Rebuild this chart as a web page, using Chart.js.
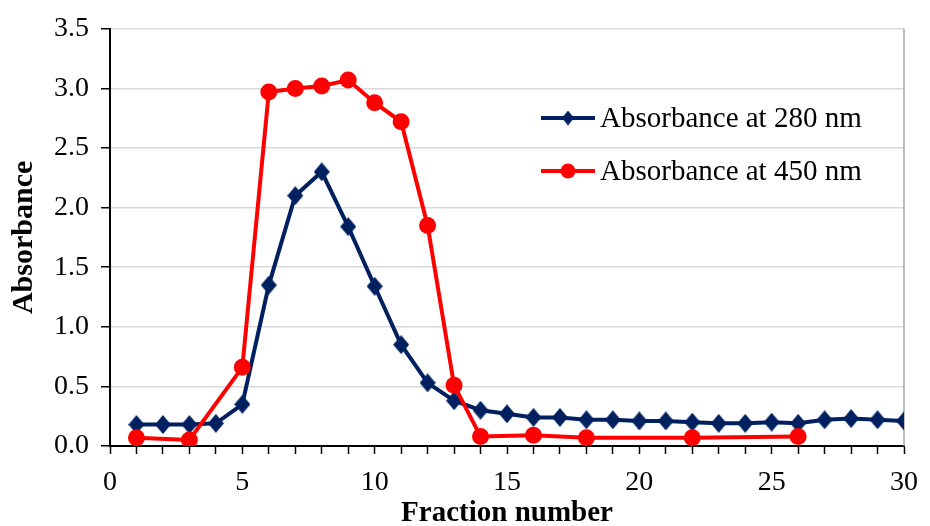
<!DOCTYPE html>
<html>
<head>
<meta charset="utf-8">
<script src="https://cdn.jsdelivr.net/npm/chart.js@4"></script>
<style>
  html, body { margin: 0; padding: 0; background: #fff; }
  #wrap { width: 930px; height: 526px; }
</style>
</head>
<body>
<div id="wrap"><canvas id="chart" width="930" height="526"></canvas></div>
<script>
// Absorbance profile of the fractions
const fractions280 = [1, 2, 3, 4, 5, 6, 7, 8, 9, 10, 11, 12, 13, 14, 15, 16, 17, 18, 19, 20, 21, 22, 23, 24, 25, 26, 27, 28, 29, 30];
const abs280 = [0.18, 0.18, 0.18, 0.19, 0.35, 1.35, 2.10, 2.30, 1.84, 1.34, 0.85, 0.53, 0.38, 0.30, 0.27, 0.24, 0.24, 0.22, 0.22, 0.21, 0.21, 0.20, 0.19, 0.19, 0.20, 0.19, 0.22, 0.23, 0.22, 0.21];

const fractions450 = [1, 3, 5, 6, 7, 8, 9, 10, 11, 12, 13, 14, 16, 18, 22, 26];
const abs450 = [0.07, 0.05, 0.66, 2.97, 3.00, 3.02, 3.07, 2.88, 2.72, 1.85, 0.51, 0.08, 0.09, 0.07, 0.07, 0.08];

const xTicks = [0, 5, 10, 15, 20, 25, 30];
const yTicks = [0, 0.5, 1.0, 1.5, 2.0, 2.5, 3.0, 3.5];

const labels = ["Absorbance at 280 nm", "Absorbance at 450 nm"];
const navy = "#002060";
const red = "#ff0000";

const toPoints = (xs, ys) => xs.map((x, i) => ({ x: x, y: ys[i] }));

// slightly tall diamond marker, like the original
function diamond(w, h, color) {
  const c = document.createElement("canvas");
  c.width = w;
  c.height = h;
  const g = c.getContext("2d");
  g.fillStyle = color;
  g.beginPath();
  g.moveTo(w / 2, 0);
  g.lineTo(w, h / 2);
  g.lineTo(w / 2, h);
  g.lineTo(0, h / 2);
  g.closePath();
  g.fill();
  return c;
}
const bigDiamond = diamond(16, 19, navy);
const smallDiamond = diamond(12, 15, navy);

Chart.defaults.font.family = "'Liberation Serif', 'Times New Roman', serif";
Chart.defaults.color = "#000";

// plot border on the right + legend inside the plot
const framePlugin = {
  id: "frame",
  beforeDatasetsDraw(chart) {
    const { ctx, chartArea } = chart;
    ctx.save();
    ctx.strokeStyle = "#a6a6a6";
    ctx.lineWidth = 1.5;
    ctx.beginPath();
    ctx.moveTo(chartArea.right, chartArea.top);
    ctx.lineTo(chartArea.right, chartArea.bottom);
    ctx.stroke();
    ctx.restore();
  },
  afterDraw(chart) {
    const { ctx } = chart;
    const rows = [
      { y: 118, color: navy, style: smallDiamond, r: 6 },
      { y: 171, color: red, style: "circle", r: 7.5 },
    ];
    ctx.save();
    rows.forEach((row, i) => {
      ctx.strokeStyle = row.color;
      ctx.lineWidth = 4;
      ctx.beginPath();
      ctx.moveTo(541, row.y);
      ctx.lineTo(595, row.y);
      ctx.stroke();
      ctx.fillStyle = row.color;
      Chart.helpers.drawPoint(ctx, { pointStyle: row.style, radius: row.r, borderWidth: 0 }, 568, row.y);
      ctx.fillStyle = "#000";
      ctx.font = "29px 'Liberation Serif'";
      ctx.textBaseline = "middle";
      ctx.textAlign = "left";
      ctx.fillText(labels[i], 600, row.y + 1);
    });
    ctx.restore();
  },
};

new Chart(document.getElementById("chart").getContext("2d"), {
  type: "line",
  data: {
    datasets: [
      {
        label: labels[1],
        data: toPoints(fractions450, abs450),
        borderColor: red,
        backgroundColor: red,
        borderWidth: 4,
        pointStyle: "circle",
        pointRadius: 8.5,
        pointBorderWidth: 0,
        tension: 0,
        order: 0,
      },
      {
        label: labels[0],
        data: toPoints(fractions280, abs280),
        borderColor: navy,
        backgroundColor: navy,
        borderWidth: 4,
        pointStyle: bigDiamond,
        pointRadius: 9,
        pointBorderWidth: 0,
        tension: 0,
        order: 1,
      },
    ],
  },
  options: {
    responsive: false,
    animation: false,
    layout: { padding: { top: 25, right: 18, left: 0, bottom: 0 } },
    plugins: {
      legend: { display: false },
      tooltip: { enabled: false },
    },
    scales: {
      x: {
        type: "linear",
        min: 0,
        max: 30,
        afterBuildTicks: (scale) => {
          scale.ticks = [];
          for (let v = 0; v <= 30; v++) scale.ticks.push({ value: v });
        },
        afterFit: (scale) => { scale.height = 80; },
        ticks: {
          autoSkip: false,
          maxRotation: 0,
          padding: 12,
          font: { size: 28 },
          callback: (v) => (xTicks.includes(v) ? String(v) : ""),
        },
        grid: {
          drawOnChartArea: false,
          tickLength: 8,
          tickColor: "#000",
          tickWidth: 1.5,
        },
        border: { color: "#000", width: 2 },
        title: {
          display: true,
          text: "Fraction number",
          font: { size: 29, weight: "bold", lineHeight: 1 },
          padding: { top: 0, bottom: -2 },
        },
      },
      y: {
        min: 0,
        max: 3.5,
        afterBuildTicks: (scale) => {
          scale.ticks = yTicks.map((v) => ({ value: v }));
        },
        afterFit: (scale) => { scale.width = 110; },
        ticks: {
          padding: 12,
          font: { size: 28 },
          callback: (v) => v.toFixed(1),
        },
        grid: {
          color: "#d9d9d9",
          lineWidth: 1.5,
          tickLength: 9,
          tickColor: "#000",
          tickWidth: 1.5,
        },
        border: { color: "#000", width: 2 },
        title: {
          display: true,
          text: "Absorbance",
          font: { size: 30, weight: "bold", lineHeight: 1.2 },
          padding: { top: 6, bottom: 0 },
        },
      },
    },
  },
  plugins: [framePlugin],
});
</script>
</body>
</html>
